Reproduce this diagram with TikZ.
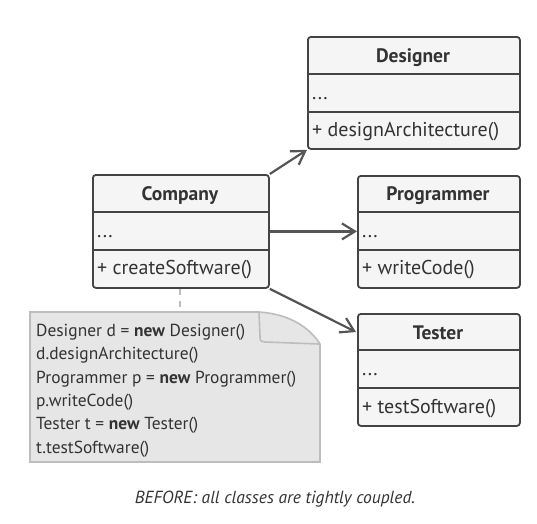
\documentclass[tikz,border=0pt]{standalone}
\usepackage{fontspec}
\setmainfont{PT Sans}
\usetikzlibrary{arrows.meta,calc}
\definecolor{linec}{HTML}{444444}
\definecolor{arrc}{HTML}{555555}
\definecolor{boxfill}{HTML}{F5F5F5}
\definecolor{notefill}{HTML}{E6E6E6}
\definecolor{noteline}{HTML}{BDBDBD}
\definecolor{textc}{HTML}{333333}
\tikzset{
  classbox/.style={draw=linec, line width=1.8pt, fill=boxfill, rounded corners=3pt, inner sep=0pt, anchor=north west},
  sep/.style={draw=linec, line width=1.8pt},
  title/.style={font=\fontsize{19.5}{21}\selectfont\bfseries, text=textc, inner sep=0pt},
  member/.style={font=\fontsize{20}{22}\selectfont, text=textc, inner sep=0pt, anchor=west},
  arr/.style={draw=arrc, line width=2.2pt, -{Straight Barb[length=13pt,width=16pt,line width=2.2pt]}},
  notetext/.style={font=\fontsize{17.4}{23.3}\selectfont, text=textc, align=left, inner sep=0pt, anchor=north west},
}
\begin{document}
\begin{tikzpicture}[x=1pt,y=-1pt]
\useasboundingbox (0,0) rectangle (537,523);
% Designer
\node[classbox, minimum width=212pt, minimum height=112pt] (designer) at (307,36) {};
\draw[sep] (307,74) -- (519,74);
\draw[sep] (307,112) -- (519,112);
\node[title] (designerT) at (413,58) {Designer};
\node[member] (designerA) at (312,99) {...};
\node[member] (designerM) at (312,132) {+ designArchitecture()};
% Company
\node[classbox, minimum width=176pt, minimum height=113pt] (company) at (92,174) {};
\draw[sep] (92,212) -- (268,212);
\draw[sep] (92,250) -- (268,250);
\node[title] (companyT) at (180,196) {Company};
\node[member] (companyA) at (97,237) {...};
\node[member] (companyM) at (97,270) {+ createSoftware()};
% Programmer
\node[classbox, minimum width=162pt, minimum height=112pt] (programmer) at (357,175) {};
\draw[sep] (357,212) -- (519,212);
\draw[sep] (357,250) -- (519,250);
\node[title] (programmerT) at (438,196) {Programmer};
\node[member] (programmerA) at (362,237) {...};
\node[member] (programmerM) at (362,270) {+ writeCode()};
% Tester
\node[classbox, minimum width=162pt, minimum height=112pt] (tester) at (357,313) {};
\draw[sep] (357,350) -- (519,350);
\draw[sep] (357,388) -- (519,388);
\node[title] (testerT) at (438,333) {Tester};
\node[member] (testerA) at (362,375) {...};
\node[member] (testerM) at (362,409) {+ testSoftware()};
% note
\coordinate (noteTop) at (180,312);
\draw[draw=noteline, fill=notefill, line width=1.6pt]
  (30,312) -- (259,312) .. controls (290,314) and (310,328) .. (320,344) -- (320,462) -- (30,462) -- cycle;
\draw[draw=noteline, line width=1.6pt] (259,312) -- (260,336) .. controls (260,341) .. (265,342) -- (319,344);
\node[notetext] (note) at (36,324) {Designer d = \textbf{new} Designer()\\d.designArchitecture()\\Programmer p = \textbf{new} Programmer()\\p.writeCode()\\Tester t = \textbf{new} Tester()\\t.testSoftware()};
\draw[draw=noteline, line width=1.6pt, dash pattern=on 6pt off 6pt] (company.south -| noteTop) -- (noteTop);
% arrows
\draw[arr] (company.north east) -- (designer.south west);
\draw[arr] (company.east) -- (programmer.west |- company.east);
\draw[arr] (company.south east) -- ($(tester.north west)+(-1,19)$);
% caption
\node[font=\fontsize{17.5}{19}\selectfont\itshape, text=textc] (caption) at (275,499) {BEFORE: all classes are tightly coupled.};
\end{tikzpicture}
\end{document}
